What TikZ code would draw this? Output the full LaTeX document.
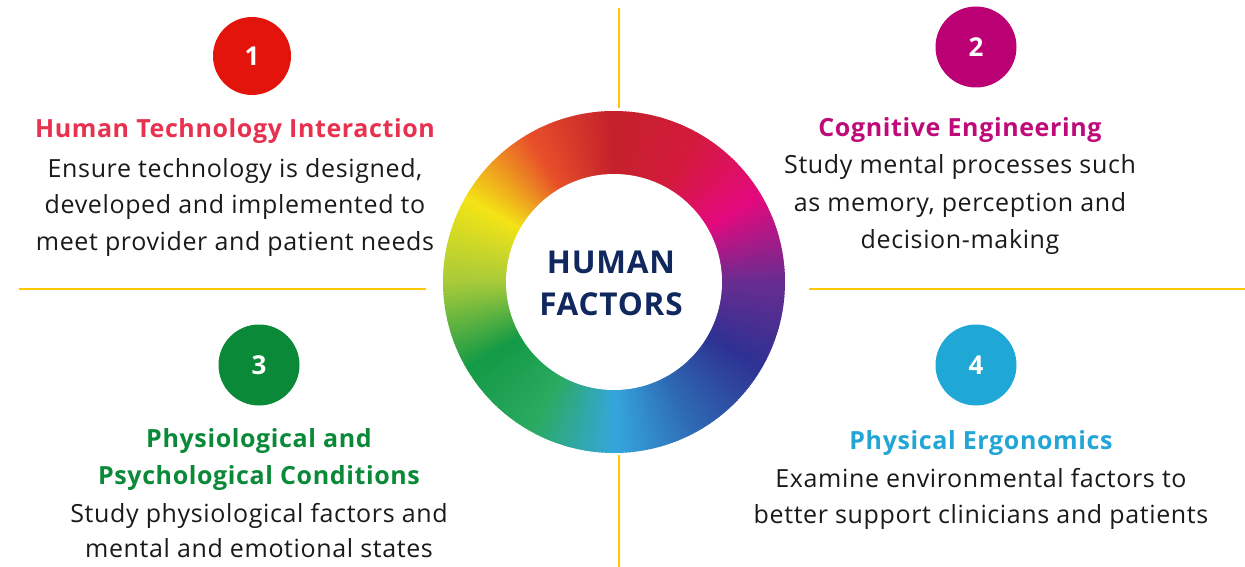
\documentclass[tikz,border=0pt]{standalone}
\usepackage{fontspec}
\setmainfont{Open Sans}[LetterSpace=2.5]
\definecolor{gold}{HTML}{FFC800}
\definecolor{navy}{HTML}{10285E}
\definecolor{cOne}{HTML}{E3140B}
\definecolor{cTwo}{HTML}{BA0073}
\definecolor{cThree}{HTML}{0A8A38}
\definecolor{cFour}{HTML}{1FA7D6}
\definecolor{hOne}{HTML}{E8304F}
\definecolor{hTwo}{HTML}{BF0A7A}
\definecolor{hThree}{HTML}{0A8A38}
\definecolor{hFour}{HTML}{23A5D6}
\definecolor{textc}{HTML}{1A1A1A}
% ring colour stops (standard angles, counter-clockwise from 90)
\definecolor{w0}{HTML}{C4212B}
\definecolor{w1}{HTML}{E8502A}
\definecolor{w2}{HTML}{F4E416}
\definecolor{w3}{HTML}{A6CA3A}
\definecolor{w4}{HTML}{139A46}
\definecolor{w5}{HTML}{2AAA5F}
\definecolor{w6}{HTML}{35A6DD}
\definecolor{w7}{HTML}{2E66B1}
\definecolor{w8}{HTML}{2E3192}
\definecolor{w9}{HTML}{6A2C90}
\definecolor{w10}{HTML}{E4097E}
\definecolor{w11}{HTML}{D41A3C}
\tikzset{
  divider/.style={draw=gold, line width=2.7pt},
  numc/.style={circle, inner sep=0pt, minimum size=81pt, text=white, font=\fontsize{26}{28}\selectfont\bfseries},
  head/.style={anchor=base, inner sep=0pt, font=\fontsize{25}{28}\selectfont\bfseries},
  body/.style={anchor=base, inner sep=0pt, text=textc, font=\fontsize{25}{28}\selectfont},
  hub/.style={anchor=base, inner sep=0pt, text=navy, font=\fontsize{31.5}{34}\selectfont\bfseries}
}
\begin{document}
\begin{tikzpicture}[x=1pt,y=-1pt]
\useasboundingbox (0,0) rectangle (1245,567);
\fill[white] (0,0) rectangle (1245,567);
% dividers
\coordinate (vt1) at (619,8);
\coordinate (vt2) at (619,108);
\coordinate (vb1) at (619,455);
\coordinate (vb2) at (619,567);
\coordinate (hl1) at (19,289);
\coordinate (hl2) at (426,289);
\coordinate (hr1) at (809,289);
\coordinate (hr2) at (1245,289);
\draw[divider] (vt1) -- (vt2);
\draw[divider] (vb1) -- (vb2);
\draw[divider] (hl1) -- (hl2);
\draw[divider] (hr1) -- (hr2);
% colour wheel
\coordinate (W) at (614,282);
\foreach \a/\ca/\cb in {90/w0/w1,120/w1/w2,150/w2/w3,180/w3/w4,210/w4/w5,240/w5/w6,270/w6/w7,300/w7/w8,330/w8/w9,360/w9/w10,390/w10/w11,420/w11/w0}{
  \foreach \i in {0,...,29}{
    \pgfmathsetmacro\p{\i*100/30}
    \pgfmathsetmacro\s{\a+\i}
    \pgfmathsetmacro\e{\s+1.3}
    \fill[\cb!\p!\ca] ([shift={(\s:171pt)}]W) arc[start angle=\s, end angle=\e, radius=171pt] -- ([shift={(\e:107pt)}]W) arc[start angle=\e, end angle=\s, radius=107pt] -- cycle;
  }
}
\fill[white] (W) circle[radius=108pt];
\node[hub] (hubA) at (611,273) {HUMAN};
\node[hub] (hubB) at (611,315) {FACTORS};
% number circles
\node[numc, fill=cOne, minimum size=78pt] (n1) at (252,56) {1};
\node[numc, fill=cTwo] (n2) at (976,47) {2};
\node[numc, fill=cThree] (n3) at (259,365) {3};
\node[numc, fill=cFour] (n4) at (976,365) {4};
% block 1
\node[head, text=hOne] (h1) at (235,138) {Human Technology Interaction};
\node[body] (b1a) at (235,177) {Ensure technology is designed,};
\node[body] (b1b) at (235,213) {developed and implemented to};
\node[body] (b1c) at (235,250) {meet provider and patient needs};
% block 2
\node[head, text=hTwo] (h2) at (960,137) {Cognitive Engineering};
\node[body] (b2a) at (960,173) {Study mental processes such};
\node[body] (b2b) at (960,211) {as memory, perception and};
\node[body] (b2c) at (960,248) {decision-making};
% block 3
\node[head, text=hThree] (h3a) at (259,447) {Physiological and};
\node[head, text=hThree] (h3b) at (259,484) {Psychological Conditions};
\node[body] (b3a) at (259,522) {Study physiological factors and};
\node[body] (b3b) at (259,557) {mental and emotional states};
% block 4
\node[head, text=hFour] (h4) at (981,449) {Physical Ergonomics};
\node[body] (b4a) at (981,487) {Examine environmental factors to};
\node[body] (b4b) at (981,523) {better support clinicians and patients};
\end{tikzpicture}
\end{document}
